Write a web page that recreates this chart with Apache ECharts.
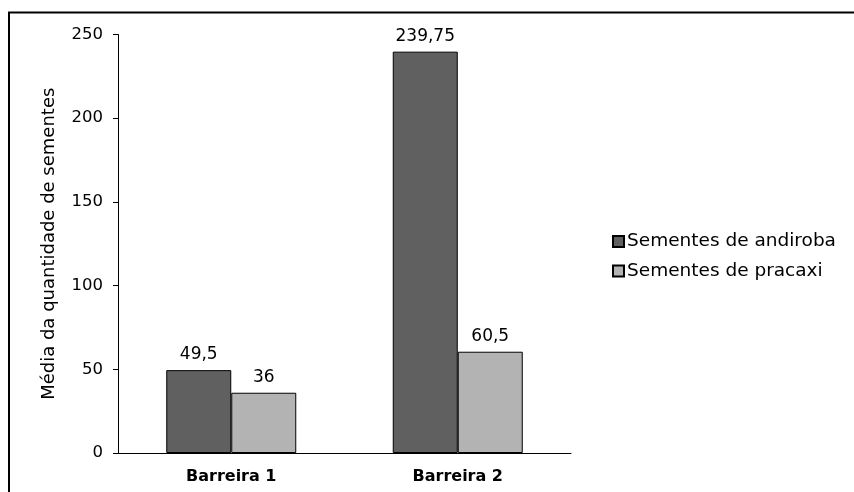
<!DOCTYPE html>
<html>
<head>
<meta charset="utf-8">
<script src="https://cdn.jsdelivr.net/npm/echarts@6/dist/echarts.min.js"></script>
<style>
  html, body { margin: 0; padding: 0; background: #fff; }
  #chart { width: 854px; height: 492px; }
</style>
</head>
<body>
<div id="chart"></div>
<script>
// Average seed counts per barrier
const categories = ['Barreira 1', 'Barreira 2'];
const seriesNames = ['Sementes de andiroba', 'Sementes de pracaxi'];
const andiroba = [49.5, 239.75];
const pracaxi = [36, 60.5];
const yTicks = { min: 0, max: 250, interval: 50 };

const FONT = '"DejaVu Sans", "Liberation Sans", Arial, sans-serif';
const fmtComma = v => String(v).replace('.', ',');

const chart = echarts.init(document.getElementById('chart'), null, { renderer: 'canvas' });

const barLabel = {
  show: true,
  position: 'top',
  distance: 7,
  color: '#000',
  fontFamily: FONT,
  fontSize: 17,
  formatter: p => fmtComma(p.value)
};

chart.setOption({
  animation: false,
  backgroundColor: '#fff',
  textStyle: { fontFamily: FONT },
  // partial frame along the top and left edges
  graphic: [
    { type: 'line', shape: { x1: 8, y1: 12.5, x2: 854, y2: 12.5 }, style: { stroke: '#000', lineWidth: 2 } },
    { type: 'line', shape: { x1: 9, y1: 12, x2: 9, y2: 492 }, style: { stroke: '#000', lineWidth: 2 } }
  ],
  grid: { left: 118, right: 283, top: 34.5, bottom: 39, containLabel: false },
  legend: {
    orient: 'vertical',
    left: 607,
    top: 227,
    itemWidth: 11,
    itemHeight: 11,
    itemGap: 10.5,
    icon: 'rect',
    textStyle: { color: '#000', fontSize: 18.5, fontFamily: FONT, padding: [0, 0, 0, -2] },
    data: seriesNames
  },
  xAxis: {
    type: 'category',
    data: categories,
    axisLine: { show: true, lineStyle: { color: '#000', width: 1 } },
    axisTick: { show: false },
    axisLabel: { color: '#000', fontSize: 16, fontWeight: 'bold', fontFamily: FONT, margin: 16 }
  },
  yAxis: {
    type: 'value',
    min: yTicks.min,
    max: yTicks.max,
    interval: yTicks.interval,
    name: 'Média da quantidade de sementes',
    nameLocation: 'middle',
    nameRotate: 90,
    nameGap: 60,
    nameTextStyle: { color: '#000', fontSize: 18, fontFamily: FONT },
    axisLine: { show: true, lineStyle: { color: '#000', width: 1 } },
    axisTick: { show: true, inside: false, length: 5, lineStyle: { color: '#000' } },
    splitLine: { show: false },
    axisLabel: { color: '#000', fontSize: 16.5, fontFamily: FONT, margin: 15 }
  },
  series: [
    {
      name: seriesNames[0],
      type: 'bar',
      data: andiroba,
      barWidth: 65,
      barGap: '0%',
      itemStyle: { color: '#606060', borderColor: '#000', borderWidth: 1 },
      label: barLabel
    },
    {
      name: seriesNames[1],
      type: 'bar',
      data: pracaxi,
      barWidth: 65,
      barGap: '0%',
      itemStyle: { color: '#b3b3b3', borderColor: '#000', borderWidth: 1 },
      label: barLabel
    }
  ]
});
</script>
</body>
</html>
